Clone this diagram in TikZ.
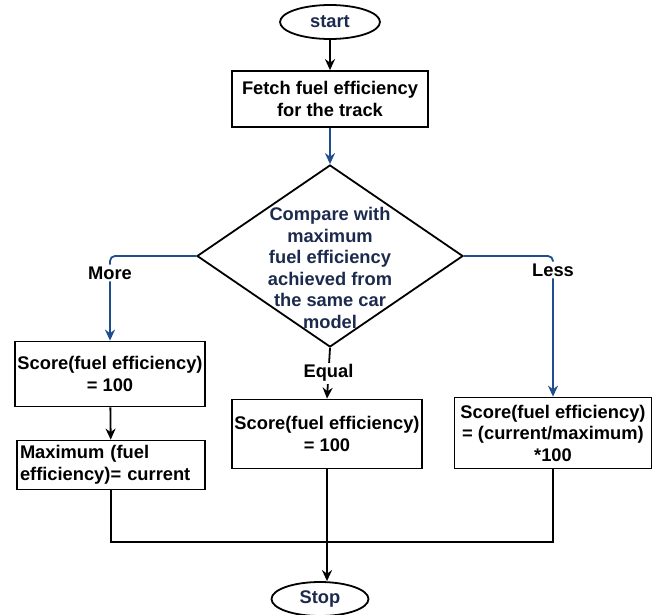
\documentclass[tikz,border=0pt]{standalone}
\usepackage{fontspec}
\setmainfont{Liberation Sans}
\usetikzlibrary{shapes.geometric,arrows.meta}

\definecolor{flowblue}{RGB}{31,78,140}
\definecolor{flownavy}{RGB}{28,42,78}

\begin{document}
\begin{tikzpicture}[x=1pt,y=-1pt]
				%\draw[help lines] (0,0) grid (672,614);
				\tikzset{
				every node/.style 	= {font=\fontsize{18.3}{21.5}\selectfont\bfseries},
				terminal/.style 	= {ellipse, draw, line width=1.8pt, minimum width=100pt, minimum height=34pt, inner sep=0pt, text=flownavy},
				process/.style 		= {rectangle, draw, line width=1.8pt, align=center, inner xsep=1pt, inner ysep=0pt},
				decision/.style 	= {diamond, draw, line width=1.8pt, minimum width=266pt, minimum height=182pt, inner sep=0pt},
				cond/.style 		= {fill=white, inner sep=2pt},
				flow/.style 		= {line width=1.8pt, -{Stealth[length=11pt,width=10pt]}},
				blueflow/.style 	= {flow, draw=flowblue, rounded corners=5pt}}
				\useasboundingbox (0,0) rectangle (672,614);
				
				\node[terminal] (start) at (330,22) {start};
				\node[process, minimum width=196pt, minimum height=56pt] (fetch) at (330,99) {Fetch fuel efficiency\\for the track};
				\node[decision] (cmp) at (330,256) {};
				\node[text=flownavy, align=center, yshift=-12pt] (cmptext) at (cmp.center) {Compare with\\maximum\\fuel efficiency\\achieved from\\the same car\\model};
				
				\node[process, minimum width=190pt, minimum height=65pt] (more) at (110,374) {Score(fuel efficiency)\\= 100};
				\node[process, text width=182pt, inner xsep=3pt, align=left, minimum height=49pt] (maxeff) at (111,465) {Maximum (fuel\\efficiency)= current};
				\node[process, minimum width=190pt, minimum height=69pt] (equal) at (327,434) {Score(fuel efficiency)\\= 100};
				\node[process, minimum width=197pt, minimum height=71pt] (less) at (553,433) {Score(fuel efficiency)\\= (current/maximum)\\{*}100};
				\node[terminal, minimum width=97pt] (stop) at (320,599) {Stop};
				\coordinate (merge) at (327,542);
				
				\draw[flow] (start) -- (fetch);
				\draw[blueflow] (fetch) -- (cmp);
				\draw[blueflow] (cmp.west) -| node[cond, pos=0.6] {More} (more.north);
				\draw[flow] (cmp.south) -- node[cond] {Equal} (equal.north);
				\draw[blueflow] (cmp.east) -| node[cond, pos=0.55] {Less} (less.north);
				\draw[flow] (more) -- (maxeff);
				\draw[line width=1.8pt] (maxeff.south) |- (merge) -| (less.south);
				\draw[flow] (equal.south) -- (equal.south |- stop.north);
\end{tikzpicture}
\end{document}
